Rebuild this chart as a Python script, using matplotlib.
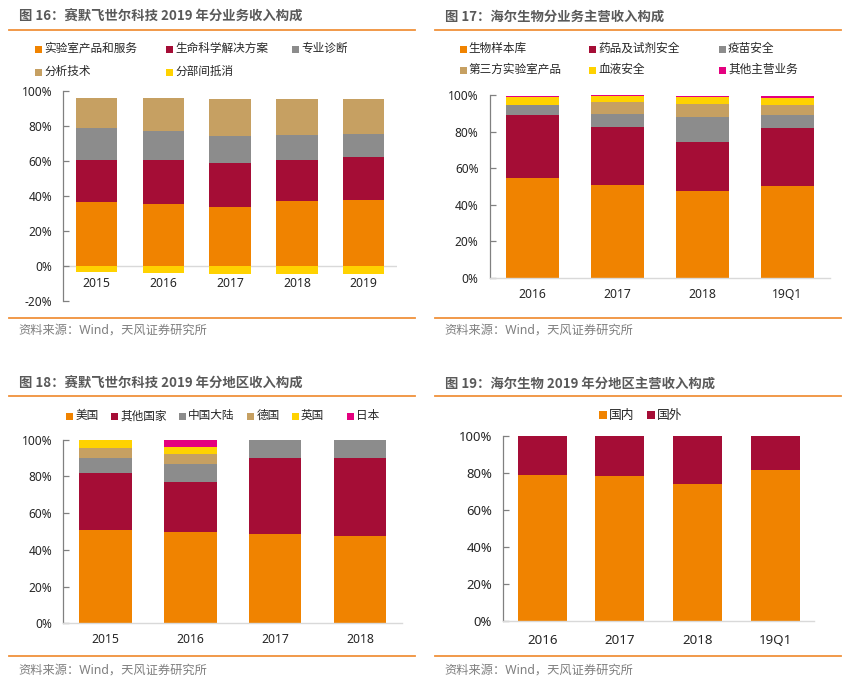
import matplotlib
matplotlib.use("Agg")
import matplotlib.pyplot as plt
from matplotlib.patches import Rectangle
from matplotlib.lines import Line2D
import numpy as np

plt.rcParams['font.family'] = ['Noto Sans', 'Noto Sans CJK SC', 'DejaVu Sans']

W, H = 846, 687

# ---------------- data ----------------
# Fig 16
c16 = ['2015', '2016', '2017', '2018', '2019']
s16_names = ['实验室产品和服务', '生命科学解决方案', '专业诊断', '分析技术', '分部间抵消']
s16_lab = [36.5, 35.3, 33.6, 37.0, 37.6]
s16_life = [24.0, 25.2, 25.2, 23.5, 24.6]
s16_diag = [18.3, 16.6, 15.4, 14.3, 13.2]
s16_anal = [17.2, 18.9, 21.2, 20.6, 20.0]
s16_elim = [-3.6, -4.2, -4.8, -4.8, -4.8]

# Fig 17
c17 = ['2016', '2017', '2018', '19Q1']
s17_names = ['生物样本库', '药品及试剂安全', '疫苗安全', '第三方实验室产品', '血液安全', '其他主营业务']
s17_bio = [54.7, 50.9, 47.6, 50.4]
s17_drug = [34.5, 31.8, 26.9, 31.7]
s17_vac = [5.5, 7.1, 13.6, 7.1]
s17_third = [0.0, 6.6, 7.2, 5.5]
s17_blood = [4.6, 3.2, 3.8, 3.8]
s17_other = [0.5, 0.4, 0.7, 1.3]

# Fig 18
c18 = ['2015', '2016', '2017', '2018']
s18_names = ['美国', '其他国家', '中国大陆', '德国', '英国', '日本']
s18_us = [50.8, 49.7, 48.6, 47.5]
s18_oth = [31.1, 27.3, 41.4, 42.5]
s18_cn = [8.1, 9.8, 10.0, 10.0]
s18_de = [5.5, 5.4, 0.0, 0.0]
s18_uk = [4.5, 3.8, 0.0, 0.0]
s18_jp = [0.0, 4.0, 0.0, 0.0]

# Fig 19
c19 = ['2016', '2017', '2018', '19Q1']
s19_names = ['国内', '国外']
s19_dom = [78.9, 78.4, 74.1, 81.6]
s19_for = [21.1, 21.6, 25.9, 18.4]

# ---------------- style ----------------
ORANGE = '#F08300'
RED = '#A50D36'
GRAY = '#8C8C8C'
TAN = '#C6A062'
YELLOW = '#FFD200'
PINK = '#E4007F'
LINE = '#F0913A'
TITLE_C = '#595959'
SRC_C = '#7F7F7F'
TXT_C = '#262626'

fig = plt.figure(figsize=(W / 100, H / 100), dpi=100)


def fx(x):
    return x / W


def fy(y):
    return 1 - y / H


def hline(x0, x1, y):
    fig.add_artist(Line2D([fx(x0), fx(x1)], [fy(y), fy(y)], color=LINE, lw=1.3,
                          transform=fig.transFigure))


def title(x, y, s):
    fig.text(fx(x), fy(y), s, fontsize=9.6, fontweight='bold', color=TITLE_C,
             va='center', ha='left', family=['Noto Sans CJK SC', 'DejaVu Sans'])


def source(x, y):
    fig.text(fx(x), fy(y), '资料来源：Wind，天风证券研究所', fontsize=8.8, color=SRC_C,
             va='center', ha='left')


def legend_item(x, y, color, label, size=8.4, sq=7):
    fig.add_artist(Rectangle((fx(x), fy(y + sq / 2)), sq / W, sq / H, color=color,
                             transform=fig.transFigure, lw=0))
    fig.text(fx(x + sq + 2), fy(y), label, fontsize=size, color=TXT_C, va='center', ha='left')


def make_axes(x0, x1, ytop, ybot):
    ax = fig.add_axes([fx(x0), fy(ybot), (x1 - x0) / W, (ybot - ytop) / H])
    for s in ['top', 'right']:
        ax.spines[s].set_visible(False)
    ax.spines['left'].set_color('#808080')
    ax.spines['left'].set_linewidth(0.9)
    ax.spines['bottom'].set_color('#D9D9D9')
    ax.spines['bottom'].set_linewidth(1.0)
    ax.tick_params(axis='y', direction='in', length=4, width=0.9, color='#808080',
                   pad=8, labelsize=8.6, labelcolor=TXT_C)
    ax.tick_params(axis='x', length=0, pad=7, labelsize=8.8, labelcolor=TXT_C)
    ax.set_facecolor('none')
    return ax


def pct(ax, ticks):
    ax.set_yticks(ticks)
    ax.set_yticklabels([f'{t}%' for t in ticks])


# ---------------- Fig 16 ----------------
title(19, 17, '图 16：赛默飞世尔科技 2019 年分业务收入构成')
hline(9, 415, 30)
ax = make_axes(63.3, 397, 91, 301)
x = np.arange(len(c16))
bw = 0.62
ax.axhline(0, color='#D9D9D9', lw=1.0, zorder=1)
bottom = np.zeros(len(c16))
for vals, col in zip([s16_lab, s16_life, s16_diag, s16_anal], [ORANGE, RED, GRAY, TAN]):
    ax.bar(x, vals, bw, bottom=bottom, color=col, zorder=2, lw=0)
    bottom += np.array(vals)
ax.bar(x, s16_elim, bw, color=YELLOW, zorder=2, lw=0)
ax.set_xlim(-0.5, len(c16) - 0.5)
ax.set_ylim(-20, 100)
pct(ax, [-20, 0, 20, 40, 60, 80, 100])
ax.spines['bottom'].set_position(('data', 0))
ax.spines['bottom'].set_visible(False)
ax.set_xticks(x)
ax.set_xticklabels(c16)
ax.tick_params(axis='x', pad=8)
for (px, py), name, col in zip([(35, 49), (166, 49), (292, 49), (35, 72), (166, 72)],
                               s16_names, [ORANGE, RED, GRAY, TAN, YELLOW]):
    legend_item(px, py, col, name)
hline(9, 415, 317.7)
source(18, 330)

# ---------------- Fig 17 ----------------
title(444.7, 17, '图 17：海尔生物分业务主营收入构成')
hline(435, 841, 30)
ax = make_axes(489.7, 829.7, 95.3, 278)
x = np.arange(len(c17))
bottom = np.zeros(len(c17))
for vals, col in zip([s17_bio, s17_drug, s17_vac, s17_third, s17_blood, s17_other],
                     [ORANGE, RED, GRAY, TAN, YELLOW, PINK]):
    ax.bar(x, vals, bw, bottom=bottom, color=col, zorder=2, lw=0)
    bottom += np.array(vals)
ax.set_xlim(-0.5, len(c17) - 0.5)
ax.set_ylim(0, 100)
pct(ax, [0, 20, 40, 60, 80, 100])
ax.set_xticks(x)
ax.set_xticklabels(c17)
for (px, py), name, col in zip([(459.7, 49), (589, 49), (719, 49), (459.7, 70), (589, 70), (719, 70)],
                               s17_names, [ORANGE, RED, GRAY, TAN, YELLOW, PINK]):
    legend_item(px, py, col, name)
hline(435, 841, 317.7)
source(444.7, 330)

# ---------------- Fig 18 ----------------
title(19, 383.3, '图 18：赛默飞世尔科技 2019 年分地区收入构成')
hline(9, 415, 396)
ax = make_axes(63.3, 402.3, 439.7, 623.3)
x = np.arange(len(c18))
bottom = np.zeros(len(c18))
for vals, col in zip([s18_us, s18_oth, s18_cn, s18_de, s18_uk, s18_jp],
                     [ORANGE, RED, GRAY, TAN, YELLOW, PINK]):
    ax.bar(x, vals, bw, bottom=bottom, color=col, zorder=2, lw=0)
    bottom += np.array(vals)
ax.set_xlim(-0.5, len(c18) - 0.5)
ax.set_ylim(0, 100)
pct(ax, [0, 20, 40, 60, 80, 100])
ax.set_xticks(x)
ax.set_xticklabels(c18)
for px, name, col in zip([66.3, 111, 179, 247.3, 292, 346.7], s18_names,
                         [ORANGE, RED, GRAY, TAN, YELLOW, PINK]):
    legend_item(px, 416.7, col, name)
hline(9, 415, 656)
source(18, 670)

# ---------------- Fig 19 ----------------
title(444.7, 383.3, '图 19：海尔生物 2019 年分地区主营收入构成')
hline(435, 841, 396)
ax = make_axes(503.3, 814, 436, 621)
x = np.arange(len(c19))
bw4 = 0.63
ax.bar(x, s19_dom, bw4, color=ORANGE, zorder=2, lw=0)
ax.bar(x, s19_for, bw4, bottom=s19_dom, color=RED, zorder=2, lw=0)
ax.set_xlim(-0.5, len(c19) - 0.5)
ax.set_ylim(0, 100)
pct(ax, [0, 20, 40, 60, 80, 100])
ax.set_xticks(x)
ax.set_xticklabels(c19)
ax.tick_params(axis='y', labelsize=9.4)
ax.tick_params(axis='x', labelsize=9.6, pad=9)
for px, name, col in zip([598.7, 647], s19_names, [ORANGE, RED]):
    legend_item(px, 415, col, name, size=9.2, sq=8)
hline(435, 841, 656)
source(444.7, 670)

fig.savefig('out.png', dpi=100)
